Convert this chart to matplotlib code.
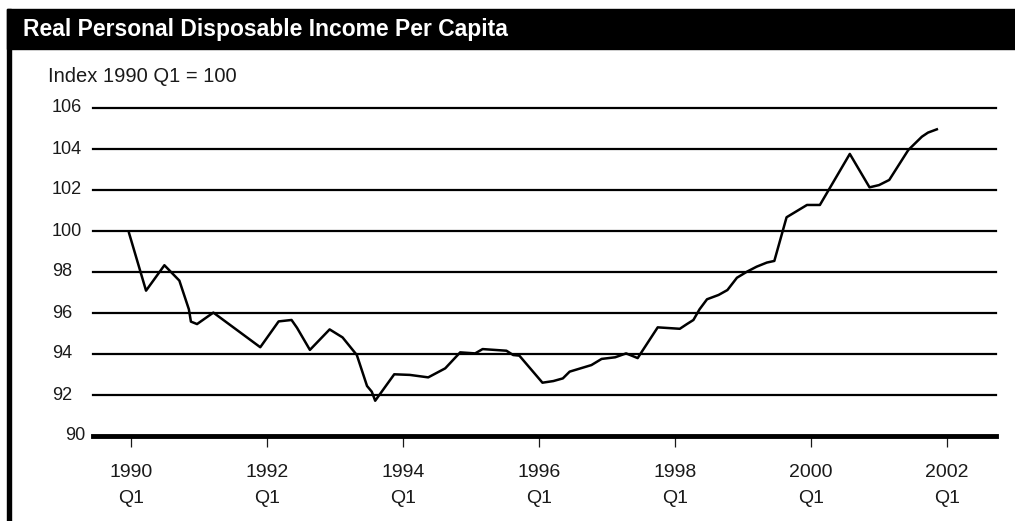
import numpy as np
import matplotlib
matplotlib.use('Agg')
import matplotlib.pyplot as plt
import matplotlib.transforms as mtransforms
from matplotlib.patches import Rectangle

# vertices of the series (decimal year, index)
dates = [1989.97, 1990.22, 1990.49, 1990.71, 1990.85, 1990.88, 1990.97, 1991.21,
         1991.90, 1992.17, 1992.36, 1992.44, 1992.63, 1992.92, 1993.11, 1993.32,
         1993.47, 1993.54, 1993.59, 1993.87, 1994.10, 1994.37, 1994.62, 1994.84,
         1995.06, 1995.17, 1995.52, 1995.62, 1995.71, 1996.05, 1996.21, 1996.35,
         1996.45, 1996.77, 1996.92, 1997.12, 1997.28, 1997.45, 1997.745, 1998.07,
         1998.17, 1998.27, 1998.36, 1998.47, 1998.64, 1998.77, 1998.91, 1999.06,
         1999.20, 1999.35, 1999.46, 1999.64, 1999.80, 1999.94, 2000.13, 2000.57,
         2000.86, 2001.00, 2001.15, 2001.43, 2001.63, 2001.72, 2001.85]
values = [99.90, 97.09, 98.33, 97.58, 96.18, 95.58, 95.46, 96.02,
          94.33, 95.59, 95.66, 95.28, 94.20, 95.20, 94.81, 93.95,
          92.44, 92.16, 91.72, 93.01, 92.98, 92.86, 93.30, 94.08,
          94.03, 94.24, 94.16, 93.95, 93.92, 92.60, 92.68, 92.81,
          93.14, 93.46, 93.76, 93.84, 94.03, 93.80, 95.30, 95.23,
          95.45, 95.66, 96.18, 96.67, 96.88, 97.12, 97.72, 98.02,
          98.26, 98.46, 98.54, 100.67, 100.99, 101.27, 101.27, 103.76,
          102.13, 102.24, 102.49, 103.95, 104.60, 104.80, 104.96]

tick_years = [1990, 1992, 1994, 1996, 1998, 2000, 2002]
tick_labels = ['%d\nQ1' % y for y in tick_years]
y_ticks = [90, 92, 94, 96, 98, 100, 102, 104, 106]
title = 'Real Personal Disposable Income Per Capita'
unit_note = 'Index 1990 Q1 = 100'

W, H = 1015, 521
plt.rcParams['font.family'] = ['Liberation Sans', 'DejaVu Sans']
fig = plt.figure(figsize=(W / 100, H / 100), dpi=100)

# frame: black header bar and left rule
fig.patches.append(Rectangle((7 / W, (H - 49) / H), 1 - 7 / W, 40 / H,
                             transform=fig.transFigure, color='black'))
fig.patches.append(Rectangle((7 / W, 0), 4 / W, (H - 9) / H,
                             transform=fig.transFigure, color='black'))
fig.text(23 / W, (H - 36) / H, title, color='white', fontsize=16.5,
         fontweight='bold', va='baseline')

ax = fig.add_axes([93 / W, (H - 436) / H, (996 - 93) / W, 328 / H])
ax.set_xlim(1989.44, 2002.72)
ax.set_ylim(90, 106)
for s in ax.spines.values():
    s.set_visible(False)
ax.patch.set_alpha(0)

for y in y_ticks[1:]:
    ax.axhline(y, color='black', lw=1.6, zorder=1, clip_on=False)
ax.axhline(90, color='black', lw=3.5, zorder=3, clip_on=False)
ax.plot(dates, values, color='black', lw=1.8, zorder=2, clip_on=False)

ax.set_yticks([])
ax.set_xticks(tick_years)
ax.set_xticklabels(tick_labels, fontsize=14, linespacing=1.68, color='#1a1a1a')
ax.tick_params(axis='x', length=8, width=0.9, pad=12, color='#1a1a1a')

# y labels: left aligned column, the baseline value set apart
tr = mtransforms.blended_transform_factory(fig.transFigure, ax.transData)
for y in y_ticks:
    if y == 90:
        ax.text(85 / W, y, str(y), transform=tr, ha='right', va='center',
                fontsize=13, color='#1a1a1a')
    else:
        ax.text(52 / W, y, str(y), transform=tr, ha='left', va='center',
                fontsize=13, color='#1a1a1a')

fig.text(48 / W, (H - 76) / H, unit_note, ha='left', va='center',
         fontsize=14.5, color='#1a1a1a')

fig.savefig('out.png', dpi=100)
